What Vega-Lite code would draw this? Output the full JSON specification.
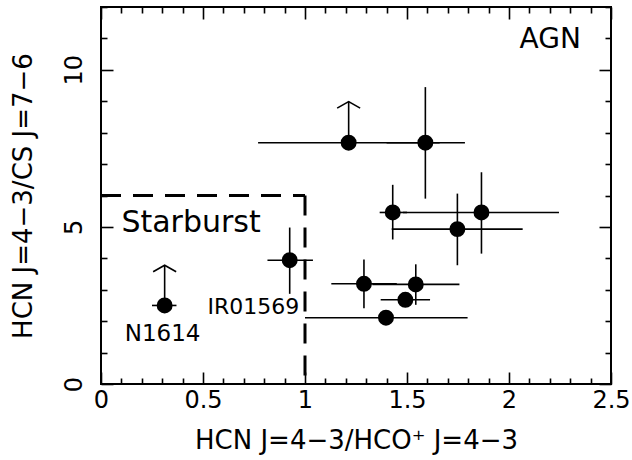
{
  "$schema": "https://vega.github.io/schema/vega-lite/v6.json",
  "width": 510,
  "height": 377,
  "autosize": {"type": "none"},
  "padding": {"left": 101, "top": 7, "right": 21, "bottom": 76},
  "config": {
    "view": {"stroke": "#000", "strokeWidth": 2},
    "font": "DejaVu Sans",
    "axis": {
      "domain": false, "grid": false, "tickColor": "#000", "tickWidth": 1.6,
      "labelColor": "#000", "labelFont": "DejaVu Sans", "labelFontSize": 24,
      "titleFont": "DejaVu Sans", "titleFontSize": 26, "titleFontWeight": "normal", "titleColor": "#000",
      "labelOverlap": false, "labelFlush": false
    }
  },
  "datasets": {
    "pts": [
      {"x": 1.214, "y": 7.68, "xlo": 0.77, "xhi": 1.66, "ylo": null, "yhi": null, "ytip": 8.99},
      {"x": 1.59, "y": 7.68, "xlo": 1.40, "xhi": 1.784, "ylo": 5.90, "yhi": 9.45, "ytip": null},
      {"x": 1.43, "y": 5.46, "xlo": 1.366, "xhi": 1.50, "ylo": 4.60, "yhi": 6.34, "ytip": null},
      {"x": 1.865, "y": 5.46, "xlo": 1.48, "xhi": 2.245, "ylo": 4.15, "yhi": 6.74, "ytip": null},
      {"x": 1.747, "y": 4.93, "xlo": 1.425, "xhi": 2.067, "ylo": 3.78, "yhi": 6.06, "ytip": null},
      {"x": 1.289, "y": 3.19, "xlo": 1.129, "xhi": 1.45, "ylo": 2.41, "yhi": 3.96, "ytip": null},
      {"x": 1.543, "y": 3.17, "xlo": 1.33, "xhi": 1.757, "ylo": 2.52, "yhi": 3.81, "ytip": null},
      {"x": 1.492, "y": 2.68, "xlo": 1.371, "xhi": 1.613, "ylo": null, "yhi": null, "ytip": null},
      {"x": 1.397, "y": 2.11, "xlo": 1.0, "xhi": 1.797, "ylo": null, "yhi": null, "ytip": null},
      {"x": 0.925, "y": 3.94, "xlo": 0.816, "xhi": 1.039, "ylo": 2.87, "yhi": 4.98, "ytip": null},
      {"x": 0.312, "y": 2.50, "xlo": 0.25, "xhi": 0.37, "ylo": null, "yhi": null, "ytip": 3.78}
    ],
    "box": [
      {"x1": 0, "x2": 1, "y1": 6, "y2": 6},
      {"x1": 1, "x2": 1, "y1": 6, "y2": 0}
    ]
  },
  "resolve": {"axis": {"x": "independent", "y": "independent"}},
  "layer": [
    {
      "data": {"name": "box"},
      "mark": {"type": "rule", "color": "#000", "strokeWidth": 3, "strokeDash": [20, 12]},
      "encoding": {
        "x": {"field": "x1", "type": "quantitative", "scale": {"domain": [0, 2.5], "nice": false, "zero": false}, "axis": null},
        "x2": {"field": "x2"},
        "y": {"field": "y1", "type": "quantitative", "scale": {"domain": [0, 12], "nice": false, "zero": false}, "axis": null},
        "y2": {"field": "y2"}
      }
    },
    {
      "data": {"name": "pts"},
      "transform": [{"filter": "isValid(datum.xlo)"}],
      "mark": {"type": "rule", "color": "#000", "strokeWidth": 1.6},
      "encoding": {
        "x": {"field": "xlo", "type": "quantitative", "scale": {"domain": [0, 2.5], "nice": false, "zero": false}, "axis": null},
        "x2": {"field": "xhi"},
        "y": {"field": "y", "type": "quantitative", "scale": {"domain": [0, 12], "nice": false, "zero": false}, "axis": null}
      }
    },
    {
      "data": {"name": "pts"},
      "transform": [{"filter": "isValid(datum.ylo)"}],
      "mark": {"type": "rule", "color": "#000", "strokeWidth": 1.6},
      "encoding": {
        "x": {"field": "x", "type": "quantitative", "scale": {"domain": [0, 2.5], "nice": false, "zero": false}, "axis": null},
        "y": {"field": "ylo", "type": "quantitative", "scale": {"domain": [0, 12], "nice": false, "zero": false}, "axis": null},
        "y2": {"field": "yhi"}
      }
    },
    {
      "data": {"name": "pts"},
      "transform": [{"filter": "isValid(datum.ytip)"}],
      "mark": {"type": "rule", "color": "#000", "strokeWidth": 1.6},
      "encoding": {
        "x": {"field": "x", "type": "quantitative", "scale": {"domain": [0, 2.5], "nice": false, "zero": false}, "axis": null},
        "y": {"field": "y", "type": "quantitative", "scale": {"domain": [0, 12], "nice": false, "zero": false}, "axis": null},
        "y2": {"field": "ytip"}
      }
    },
    {
      "data": {"name": "pts"},
      "transform": [{"filter": "isValid(datum.ytip)"}],
      "mark": {"type": "point", "shape": "M-1,0.57L0,0L1,0.57", "filled": false, "stroke": "#000", "strokeWidth": 1.6, "size": 529, "opacity": 1},
      "encoding": {
        "x": {"field": "x", "type": "quantitative", "scale": {"domain": [0, 2.5], "nice": false, "zero": false},
          "axis": {"orient": "top", "values": [0,0.1,0.2,0.3,0.4,0.5,0.6,0.7,0.8,0.9,1,1.1,1.2,1.3,1.4,1.5,1.6,1.7,1.8,1.9,2,2.1,2.2,2.3,2.4,2.5],
            "labels": false, "title": null,
            "tickSize": {"condition": {"test": "abs(datum.value*2 - round(datum.value*2)) < 0.001", "value": -12}, "value": -6}}},
        "y": {"field": "ytip", "type": "quantitative", "scale": {"domain": [0, 12], "nice": false, "zero": false},
          "axis": {"orient": "right", "values": [0,1,2,3,4,5,6,7,8,9,10,11,12],
            "labels": false, "title": null,
            "tickSize": {"condition": {"test": "datum.value % 5 == 0", "value": -12}, "value": -6}}}
      }
    },
    {
      "data": {"name": "pts"},
      "mark": {"type": "point", "shape": "circle", "filled": true, "color": "#000", "size": 254, "opacity": 1},
      "encoding": {
        "x": {"field": "x", "type": "quantitative", "scale": {"domain": [0, 2.5], "nice": false, "zero": false},
          "axis": {"orient": "bottom", "values": [0,0.1,0.2,0.3,0.4,0.5,0.6,0.7,0.8,0.9,1,1.1,1.2,1.3,1.4,1.5,1.6,1.7,1.8,1.9,2,2.1,2.2,2.3,2.4,2.5],
            "labelExpr": "abs(datum.value*2 - round(datum.value*2)) < 0.001 ? format(datum.value, '~g') : ''",
            "labelPadding": 16,
            "tickSize": {"condition": {"test": "abs(datum.value*2 - round(datum.value*2)) < 0.001", "value": -12}, "value": -6},
            "title": "HCN J=4−3/HCO⁺ J=4−3", "titleY": 64, "titleBaseline": "alphabetic"}},
        "y": {"field": "y", "type": "quantitative", "scale": {"domain": [0, 12], "nice": false, "zero": false},
          "axis": {"orient": "left", "values": [0,1,2,3,4,5,6,7,8,9,10,11,12],
            "labelExpr": "datum.value % 5 == 0 ? datum.label : ''",
            "labelAngle": -90, "labelPadding": 27,
            "tickSize": {"condition": {"test": "datum.value % 5 == 0", "value": -12}, "value": -6},
            "title": "HCN J=4−3/CS J=7−6", "titleX": -78, "titleBaseline": "middle", "titleAlign": "center"}}
      }
    },
    {
      "data": {"values": [{"x": 2.052, "y": 10.70, "t": "AGN"}]},
      "mark": {"type": "text", "fontSize": 28, "align": "left", "baseline": "alphabetic", "color": "#000", "font": "DejaVu Sans"},
      "encoding": {
        "x": {"field": "x", "type": "quantitative", "scale": {"domain": [0, 2.5], "nice": false, "zero": false}, "axis": null},
        "y": {"field": "y", "type": "quantitative", "scale": {"domain": [0, 12], "nice": false, "zero": false}, "axis": null},
        "text": {"field": "t"}
      }
    },
    {
      "data": {"values": [{"x": 0.1, "y": 4.84, "t": "Starburst"}]},
      "mark": {"type": "text", "fontSize": 30, "align": "left", "baseline": "alphabetic", "color": "#000", "font": "DejaVu Sans"},
      "encoding": {
        "x": {"field": "x", "type": "quantitative", "scale": {"domain": [0, 2.5], "nice": false, "zero": false}, "axis": null},
        "y": {"field": "y", "type": "quantitative", "scale": {"domain": [0, 12], "nice": false, "zero": false}, "axis": null},
        "text": {"field": "t"}
      }
    },
    {
      "data": {"values": [{"x": 0.302, "y": 1.38, "t": "N1614"}]},
      "mark": {"type": "text", "fontSize": 23, "align": "center", "baseline": "alphabetic", "color": "#000", "font": "DejaVu Sans"},
      "encoding": {
        "x": {"field": "x", "type": "quantitative", "scale": {"domain": [0, 2.5], "nice": false, "zero": false}, "axis": null},
        "y": {"field": "y", "type": "quantitative", "scale": {"domain": [0, 12], "nice": false, "zero": false}, "axis": null},
        "text": {"field": "t"}
      }
    },
    {
      "data": {"values": [{"x": 0.972, "y": 2.23, "t": "IR01569"}]},
      "mark": {"type": "text", "fontSize": 22, "align": "right", "baseline": "alphabetic", "color": "#000", "font": "DejaVu Sans"},
      "encoding": {
        "x": {"field": "x", "type": "quantitative", "scale": {"domain": [0, 2.5], "nice": false, "zero": false}, "axis": null},
        "y": {"field": "y", "type": "quantitative", "scale": {"domain": [0, 12], "nice": false, "zero": false}, "axis": null},
        "text": {"field": "t"}
      }
    }
  ]
}
